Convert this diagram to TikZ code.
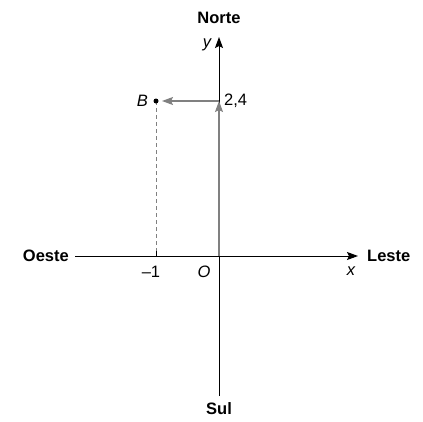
\documentclass[tikz,border=0pt]{standalone}
\usepackage{fontspec}
\setmainfont{Liberation Sans}
\usetikzlibrary{arrows.meta}
\begin{document}
\begin{tikzpicture}[x=1pt,y=-1pt,
  axis/.style={line width=1pt,-{Stealth[length=11pt,width=8pt,inset=2pt]}},
  vec/.style={line width=1.1pt,gray,-{Stealth[length=11pt,width=8pt,inset=2pt]}},
  lbl/.style={font=\fontsize{16.5}{19}\selectfont,inner sep=0pt},
  blbl/.style={font=\fontsize{16.5}{19}\selectfont\bfseries,inner sep=0pt}]
\useasboundingbox (0,0) rectangle (423,421);
\coordinate (O) at (219,256);
\coordinate (W) at (75,256);
\coordinate (E) at (358,256);
\coordinate (S) at (219,396);
\coordinate (N) at (219,37);
\coordinate (Y) at (219,101);
\coordinate (Bp) at (156,101);
\coordinate (Bx) at (156,256);
\draw[axis] (W) -- (E);
\draw[axis] (S) -- (N);
\draw[vec] (O) -- (Y);
\draw[vec,shorten >=6pt] (Y) -- (Bp);
\draw[gray,dash pattern=on 4pt off 3pt,line width=0.8pt] (Bp) -- (Bx);
\fill (Bp) circle (2.5pt);
\draw[line width=1pt] (156,251) -- (Bx);
\node[blbl] (norte) at (219,18) {Norte};
\node[blbl] (sul) at (219,409) {Sul};
\node[blbl,anchor=east] (oeste) at (69,256) {Oeste};
\node[blbl,anchor=west] (leste) at (367,256) {Leste};
\node[lbl] (y) at (207,45) {\itshape y};
\node[lbl] (x) at (351,271) {\itshape x};
\node[lbl] (O1) at (204,272) {\itshape O};
\node[lbl] (m1) at (151,272) {–1};
\node[lbl,anchor=east] (B) at (148,101) {\itshape B};
\node[lbl,anchor=west] (v) at (224,101) {2,4};
\end{tikzpicture}
\end{document}
